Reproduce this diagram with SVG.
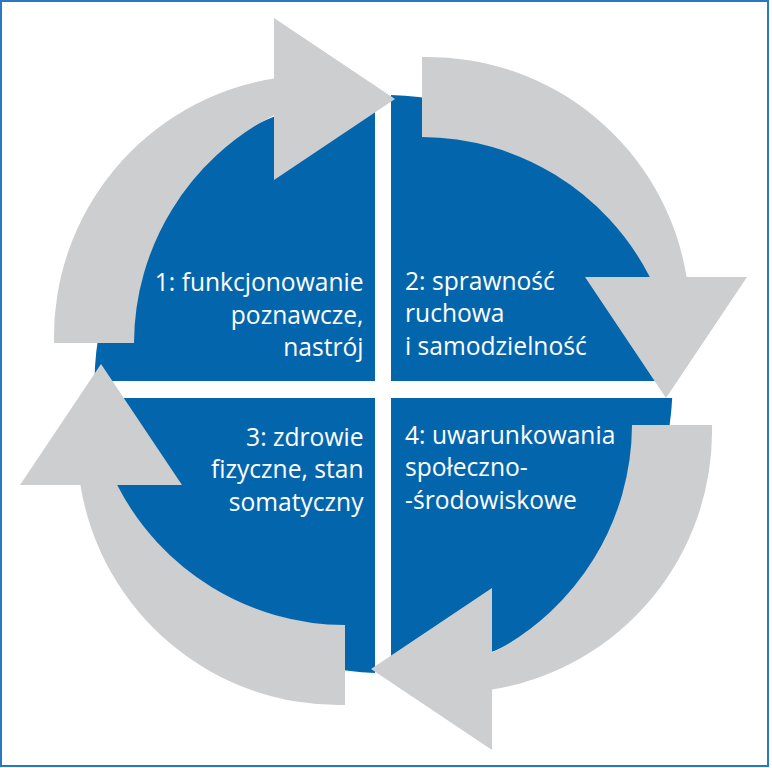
<svg xmlns="http://www.w3.org/2000/svg" width="772" height="768" viewBox="0 0 772 768">
  <style>
    .q { fill: #0366ad; }
    .arrow { fill: #cdcecf; }
    .lbl { font-family: "Open Sans", "Noto Sans", sans-serif; font-size: 24.6px; fill: #ffffff; }
    .end { text-anchor: end; }
  </style>
  <defs>
    <path id="arc-arrow" d="M422 57 A262 262 0 0 1 686.6 277 L747 277 L666 398 L585 277 L649.8 277 A257 257 0 0 0 422 137 Z"/>
  </defs>
  <rect x="0" y="0" width="772" height="768" fill="#ffffff"/>
  <rect x="1" y="1" width="767" height="765" fill="none" stroke="#2b78c2" stroke-width="2"/>

  <g id="node-1">
    <path class="q" d="M375 381 L94.5 381 A289 289 0 0 1 375 95.1 Z"/>
    <text class="lbl end" x="363.5" y="290.7">1: funkcjonowanie</text>
    <text class="lbl end" x="363.5" y="323.5">poznawcze,</text>
    <text class="lbl end" x="363.5" y="356.3">nastrój</text>
  </g>
  <g id="node-2">
    <path class="q" d="M391 381 L391 95.1 A289 289 0 0 1 672.5 381 Z"/>
    <text class="lbl" x="405" y="289.5">2: sprawność</text>
    <text class="lbl" x="405" y="322.3">ruchowa</text>
    <text class="lbl" x="405" y="355.1">i samodzielność</text>
  </g>
  <g id="node-3">
    <path class="q" d="M375 398 L375 672.9 A289 289 0 0 1 94.8 398 Z"/>
    <text class="lbl end" x="363.5" y="445.5">3: zdrowie</text>
    <text class="lbl end" x="363.5" y="478">fizyczne, stan</text>
    <text class="lbl end" x="363.5" y="510.5">somatyczny</text>
  </g>
  <g id="node-4">
    <path class="q" d="M391 398 L672.2 398 A289 289 0 0 1 391 672.9 Z"/>
    <text class="lbl" x="405" y="443.5">4: uwarunkowania</text>
    <text class="lbl" x="405" y="476">społeczno-</text>
    <text class="lbl" x="405" y="508.5">-środowiskowe</text>
  </g>

  <g id="connectors">
    <use class="arrow" href="#arc-arrow" transform="rotate(-90 381 384)"/>
    <use class="arrow" href="#arc-arrow"/>
    <use class="arrow" href="#arc-arrow" transform="rotate(90 383 386)"/>
    <use class="arrow" href="#arc-arrow" transform="rotate(180 383.5 381)"/>
  </g>
</svg>
